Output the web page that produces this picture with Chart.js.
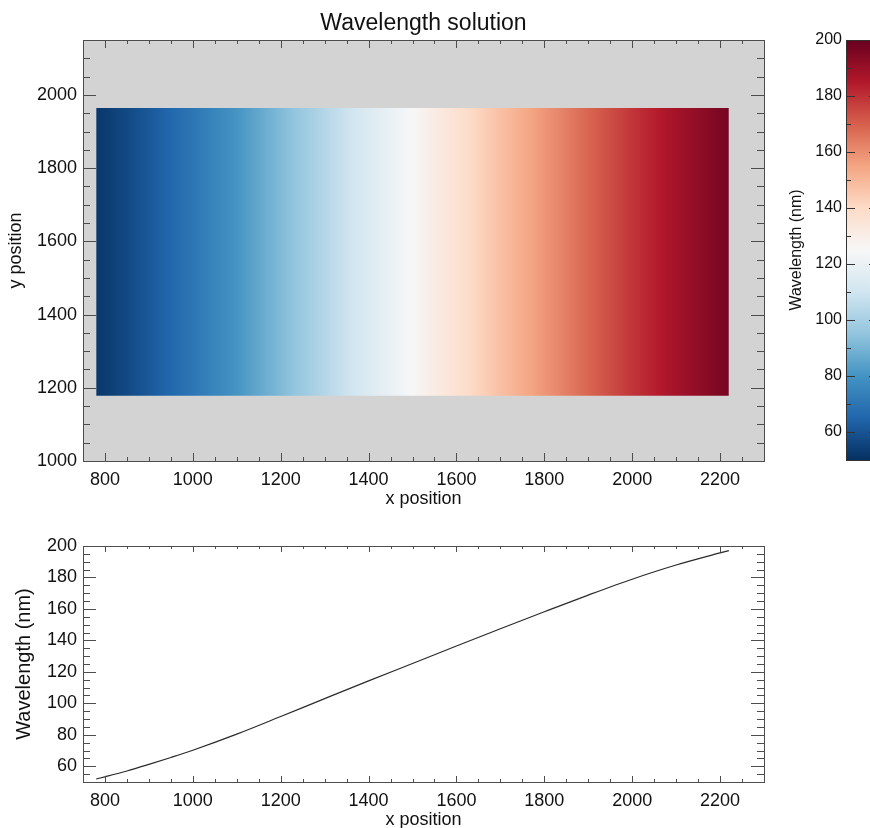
<!DOCTYPE html>
<html>
<head>
<meta charset="utf-8">
<title>Wavelength solution</title>
<script src="https://cdn.jsdelivr.net/npm/chart.js@4.4.1/dist/chart.umd.min.js"></script>
<style>
  html, body { margin: 0; padding: 0; background: #ffffff; overflow: hidden; width: 870px; height: 828px; }
  canvas { position: absolute; }
</style>
</head>
<body>
<canvas id="mapChart" width="870" height="520" style="left:0;top:0"></canvas>
<canvas id="barChart" width="160" height="520" style="left:740px;top:0"></canvas>
<canvas id="lineChart" width="870" height="330" style="left:0;top:520px"></canvas>
<script>
// ---- axis ranges and tick labels ----
const X_RANGE = [750, 2300];
const Y_RANGE = [1000, 2150];
const NM_RANGE = [50, 200];

const xTickLabels = [800, 1000, 1200, 1400, 1600, 1800, 2000, 2200];
const yTickLabels = [1000, 1200, 1400, 1600, 1800, 2000];
const nmTickLabels = [60, 80, 100, 120, 140, 160, 180, 200];

// ---- wavelength solution along the detector columns ----
const pixelX = [780, 800, 850, 900, 950, 1000, 1100, 1200, 1300, 1400, 1500, 1600, 1700, 1800, 1900, 2000, 2100, 2200, 2220];
const wavelength = [51.9, 53.3, 57.0, 61.2, 65.6, 70.2, 80.4, 91.6, 103.0, 114.3, 125.3, 136.4, 147.4, 158.2, 168.8, 178.9, 187.9, 195.6, 197.1];

// rows covered by the detector image
const detectorY = [1178, 1964];

// RdBu reversed (blue -> white -> red)
const RDBU_R = ['#053061', '#2166ac', '#4393c3', '#92c5de', '#d1e5f0', '#f7f7f7',
                '#fddbc7', '#f4a582', '#d6604d', '#b2182b', '#67001f'];

const FONT = "'Liberation Sans', Arial, Helvetica, sans-serif";
const TEXT = '#111111';
const AXIS = '#4d4d4d';
Chart.defaults.font.family = FONT;
Chart.defaults.color = TEXT;

function hexRgb(h) {
  const n = parseInt(h.slice(1), 16);
  return [(n >> 16) & 255, (n >> 8) & 255, n & 255];
}
const CMAP_RGB = RDBU_R.map(hexRgb);

function cmap(t) {
  t = Math.min(1, Math.max(0, t));
  const f = t * (CMAP_RGB.length - 1);
  const i = Math.min(CMAP_RGB.length - 2, Math.floor(f));
  const u = f - i;
  const a = CMAP_RGB[i], b = CMAP_RGB[i + 1];
  const c = a.map((v, k) => Math.round(v + (b[k] - v) * u));
  return `rgb(${c[0]},${c[1]},${c[2]})`;
}
const norm = v => (v - NM_RANGE[0]) / (NM_RANGE[1] - NM_RANGE[0]);

function steps(from, to, step) {
  const out = [];
  for (let v = from; v <= to + 1e-9; v += step) out.push(v);
  return out;
}

// Horizontal fill for the detector image: colour follows the wavelength of each column.
function detectorFill(context) {
  const chart = context.chart;
  if (!chart.chartArea) return 'rgba(0,0,0,0)';
  const xs = chart.scales.x;
  const p0 = xs.getPixelForValue(pixelX[0]);
  const p1 = xs.getPixelForValue(pixelX[pixelX.length - 1]);
  const g = chart.ctx.createLinearGradient(p0, 0, p1, 0);
  const span = pixelX[pixelX.length - 1] - pixelX[0];
  const knotStep = (NM_RANGE[1] - NM_RANGE[0]) / (RDBU_R.length - 1);
  const addStop = (x, w) => g.addColorStop(Math.min(1, Math.max(0, (x - pixelX[0]) / span)), cmap(norm(w)));
  for (let i = 0; i < pixelX.length; i++) {
    addStop(pixelX[i], wavelength[i]);
    if (i < pixelX.length - 1) {
      const w0 = wavelength[i], w1 = wavelength[i + 1];
      // extra stops where the column colour passes a colormap knot
      for (let k = 1; k < RDBU_R.length - 1; k++) {
        const wk = NM_RANGE[0] + k * knotStep;
        if (wk > w0 && wk < w1) {
          addStop(pixelX[i] + (wk - w0) / (w1 - w0) * (pixelX[i + 1] - pixelX[i]), wk);
        }
      }
    }
  }
  return g;
}

// Vertical fill for the colour bar.
function colorbarFill(context) {
  const chart = context.chart;
  if (!chart.chartArea) return 'rgba(0,0,0,0)';
  const ys = chart.scales.y;
  const g = chart.ctx.createLinearGradient(0, ys.getPixelForValue(NM_RANGE[0]), 0, ys.getPixelForValue(NM_RANGE[1]));
  RDBU_R.forEach((c, i) => g.addColorStop(i / (RDBU_R.length - 1), c));
  return g;
}

// Plot frame, background and inward-pointing major/minor tick marks.
const frameTicks = {
  id: 'frameTicks',
  beforeDraw(chart, args, o) {
    if (!o.background) return;
    const a = chart.chartArea, ctx = chart.ctx;
    ctx.save();
    ctx.fillStyle = o.background;
    ctx.fillRect(a.left, a.top, a.right - a.left, a.bottom - a.top);
    ctx.restore();
  },
  afterDraw(chart, args, o) {
    if (!o.axes) return;
    const ctx = chart.ctx, a = chart.chartArea;
    ctx.save();
    ctx.strokeStyle = o.color || AXIS;
    ctx.lineWidth = 1;
    ctx.beginPath();
    for (const ax of o.axes) {
      const s = chart.scales[ax.id];
      const marks = ax.major.map(v => [v, ax.majorLen]).concat(ax.minor.map(v => [v, ax.minorLen]));
      for (const [v, len] of marks) {
        const p = Math.round(s.getPixelForValue(v)) + 0.5;
        if (s.isHorizontal()) {
          if (p < a.left || p > a.right) continue;
          if (ax.sides.includes('bottom')) { ctx.moveTo(p, a.bottom); ctx.lineTo(p, a.bottom - len); }
          if (ax.sides.includes('top')) { ctx.moveTo(p, a.top); ctx.lineTo(p, a.top + len); }
        } else {
          if (p < a.top || p > a.bottom) continue;
          if (ax.sides.includes('left')) { ctx.moveTo(a.left, p); ctx.lineTo(a.left + len, p); }
          if (ax.sides.includes('right')) { ctx.moveTo(a.right, p); ctx.lineTo(a.right - len, p); }
        }
      }
    }
    ctx.stroke();
    const l = Math.round(a.left) + 0.5, t = Math.round(a.top) + 0.5;
    ctx.strokeRect(l, t, Math.round(a.right) - Math.round(a.left), Math.round(a.bottom) - Math.round(a.top));
    ctx.restore();
  }
};

const fixedTicks = values => scale => { scale.ticks = values.map(v => ({ value: v })); };
const plainNumber = v => String(v);
const noGrid = { display: false, drawTicks: false };

// ---------------- detector image ----------------
new Chart(document.getElementById('mapChart'), {
  type: 'line',
  data: {
    datasets: [{
      data: [{ x: pixelX[0], y: detectorY[1] }, { x: pixelX[pixelX.length - 1], y: detectorY[1] }],
      fill: { value: detectorY[0] },
      backgroundColor: detectorFill,
      borderWidth: 0,
      borderColor: 'rgba(0,0,0,0)',
      pointRadius: 0
    }]
  },
  options: {
    responsive: false,
    animation: false,
    events: [],
    layout: { padding: { left: 0, right: 106, top: 0, bottom: 0 } },
    plugins: {
      legend: { display: false },
      tooltip: { enabled: false },
      title: {
        display: true,
        text: 'Wavelength solution',
        fullSize: false,
        color: TEXT,
        font: { size: 23, weight: 'normal', family: FONT },
        padding: { top: 10, bottom: 2.4 }
      },
      frameTicks: {
        background: '#d3d3d3',
        axes: [
          { id: 'x', major: xTickLabels, minor: steps(X_RANGE[0], X_RANGE[1], 50), majorLen: 8, minorLen: 4, sides: ['bottom', 'top'] },
          { id: 'y', major: yTickLabels, minor: steps(Y_RANGE[0], Y_RANGE[1], 50), majorLen: 13, minorLen: 7, sides: ['left', 'right'] }
        ]
      }
    },
    scales: {
      x: {
        type: 'linear', min: X_RANGE[0], max: X_RANGE[1],
        grid: noGrid, border: { display: false },
        afterBuildTicks: fixedTicks(xTickLabels),
        afterFit: s => { s.height = 59; },
        ticks: { font: { size: 18 }, color: TEXT, padding: 8, maxRotation: 0, autoSkip: false, callback: plainNumber },
        title: { display: true, text: 'x position', color: TEXT, font: { size: 18 }, padding: { top: 0, bottom: 10 } }
      },
      y: {
        type: 'linear', min: Y_RANGE[0], max: Y_RANGE[1],
        grid: noGrid, border: { display: false },
        afterBuildTicks: fixedTicks(yTickLabels),
        afterFit: s => { s.width = 83; },
        ticks: { font: { size: 18 }, color: TEXT, padding: 6, autoSkip: false, callback: plainNumber },
        title: { display: true, text: 'y position', color: TEXT, font: { size: 18 }, padding: { top: 5, bottom: 0 } }
      }
    }
  },
  plugins: [frameTicks]
});

// ---------------- colour bar ----------------
new Chart(document.getElementById('barChart'), {
  type: 'bar',
  data: {
    labels: ['Wavelength (nm)'],
    datasets: [{
      data: [[NM_RANGE[0], NM_RANGE[1]]],
      backgroundColor: colorbarFill,
      borderWidth: 0,
      barPercentage: 1,
      categoryPercentage: 1
    }]
  },
  options: {
    responsive: false,
    animation: false,
    events: [],
    layout: { padding: { left: 0, right: 22, top: 40, bottom: 60 } },
    plugins: {
      legend: { display: false },
      tooltip: { enabled: false },
      frameTicks: {
        color: '#333333',
        axes: [
          { id: 'y', major: nmTickLabels, minor: steps(NM_RANGE[0], NM_RANGE[1], 10), majorLen: 9, minorLen: 5, sides: ['left', 'right'] }
        ]
      }
    },
    scales: {
      x: { display: false },
      y: {
        type: 'linear', min: NM_RANGE[0], max: NM_RANGE[1],
        grid: noGrid, border: { display: false },
        afterBuildTicks: fixedTicks(nmTickLabels),
        afterFit: s => { s.width = 106; },
        ticks: { font: { size: 16 }, color: TEXT, padding: 4, autoSkip: false, callback: plainNumber },
        title: { display: true, text: 'Wavelength (nm)', color: TEXT, font: { size: 16 }, padding: { top: 47, bottom: 0 } }
      }
    }
  },
  plugins: [frameTicks]
});

// ---------------- wavelength vs. column ----------------
new Chart(document.getElementById('lineChart'), {
  type: 'line',
  data: {
    datasets: [{
      data: pixelX.map((x, i) => ({ x, y: wavelength[i] })),
      borderColor: '#2a2a2a',
      borderWidth: 1.2,
      pointRadius: 0,
      fill: false,
      cubicInterpolationMode: 'monotone'
    }]
  },
  options: {
    responsive: false,
    animation: false,
    events: [],
    layout: { padding: { left: 0, right: 106, top: 26, bottom: 0 } },
    plugins: {
      legend: { display: false },
      tooltip: { enabled: false },
      frameTicks: {
        axes: [
          { id: 'x', major: xTickLabels, minor: steps(X_RANGE[0], X_RANGE[1], 50), majorLen: 6, minorLen: 3, sides: ['bottom', 'top'] },
          { id: 'y', major: nmTickLabels, minor: steps(NM_RANGE[0], NM_RANGE[1], 5), majorLen: 13, minorLen: 7, sides: ['left', 'right'] }
        ]
      }
    },
    scales: {
      x: {
        type: 'linear', min: X_RANGE[0], max: X_RANGE[1],
        grid: noGrid, border: { display: false },
        afterBuildTicks: fixedTicks(xTickLabels),
        afterFit: s => { s.height = 68; },
        ticks: { font: { size: 18 }, color: TEXT, padding: 8, maxRotation: 0, autoSkip: false, callback: plainNumber },
        title: { display: true, text: 'x position', color: TEXT, font: { size: 18 }, padding: { top: 0, bottom: 19 } }
      },
      y: {
        type: 'linear', min: NM_RANGE[0], max: NM_RANGE[1],
        grid: noGrid, border: { display: false },
        afterBuildTicks: fixedTicks(nmTickLabels),
        afterFit: s => { s.width = 83; },
        ticks: { font: { size: 18 }, color: TEXT, padding: 6, autoSkip: false, callback: plainNumber },
        title: { display: true, text: 'Wavelength (nm)', color: TEXT, font: { size: 20 }, padding: { top: 12, bottom: 0 } }
      }
    }
  },
  plugins: [frameTicks]
});
</script>
</body>
</html>
